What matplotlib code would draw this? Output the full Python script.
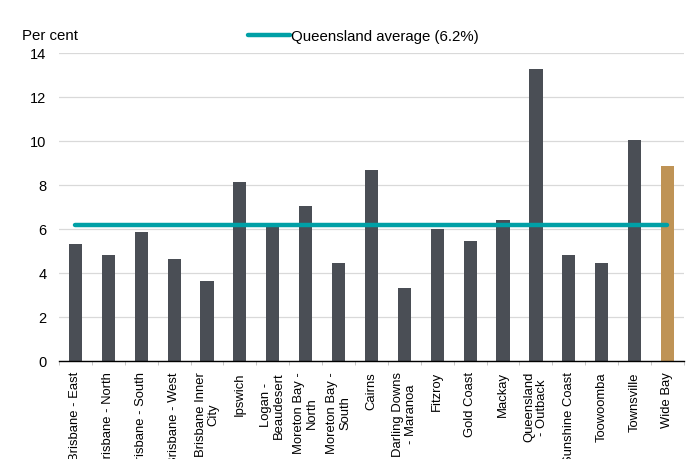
import numpy as np
import matplotlib.pyplot as plt

plt.rcParams['font.family'] = ['Liberation Sans', 'DejaVu Sans']

regions = ["Brisbane - East", "Brisbane - North", "Brisbane - South", "Brisbane - West",
           "Brisbane Inner\nCity", "Ipswich", "Logan -\nBeaudesert", "Moreton Bay -\nNorth",
           "Moreton Bay -\nSouth", "Cairns", "Darling Downs\n- Maranoa", "Fitzroy",
           "Gold Coast", "Mackay", "Queensland\n- Outback", "Sunshine Coast",
           "Toowoomba", "Townsville", "Wide Bay"]
rates = [5.30, 4.82, 5.85, 4.64, 3.64, 8.14, 6.26, 7.06, 4.47, 8.67,
         3.30, 5.98, 5.45, 6.41, 13.27, 4.83, 4.45, 10.05, 8.88]
qld_average = 6.2
highlight = "Wide Bay"

BAR = '#4a4e55'
GOLD = '#bf9355'
TEAL = '#00a0a6'


def main():
    fig = plt.figure(figsize=(6.86, 4.59), dpi=100)
    ax = fig.add_axes([0.086, 0.2135, 0.911, 0.671])

    x = np.arange(len(regions))
    colors = [GOLD if r == highlight else BAR for r in regions]
    ax.bar(x, rates, width=0.4, color=colors, zorder=2)
    ax.plot(x, [qld_average] * len(x), color=TEAL, lw=3.2,
            solid_capstyle='round', zorder=3, label='Queensland average (6.2%)')

    ax.set_xlim(-0.5, len(x) - 0.5)
    ax.set_ylim(0, 14)
    ax.set_yticks(range(0, 15, 2))
    ax.grid(axis='y', color='#d9d9d9', lw=0.9, zorder=0)

    for s in ['left', 'right', 'top']:
        ax.spines[s].set_visible(False)
    ax.spines['bottom'].set_color('black')
    ax.spines['bottom'].set_linewidth(1.0)

    ax.set_xticks(x)
    ax.set_xticklabels(regions, rotation=90, ha='center', va='top',
                       multialignment='center', fontsize=9.4, linespacing=1.1)
    ax.tick_params(axis='x', which='major', length=0, pad=8)
    ax.set_xticks(np.arange(-0.5, len(x), 1), minor=True)
    ax.tick_params(axis='x', which='minor', length=3, color='#bfbfbf')
    ax.tick_params(axis='y', length=0, labelsize=10.5, pad=9)

    fig.text(0.032, 0.922, 'Per cent', fontsize=10.8, va='center')
    fig.legend(loc='center left', bbox_to_anchor=(0.3615, 0.92), frameon=False,
               fontsize=10.8, handlelength=2.8, handletextpad=0.05,
               borderpad=0, borderaxespad=0)

    plt.savefig("out.png", dpi=100)


if __name__ == "__main__":
    main()
